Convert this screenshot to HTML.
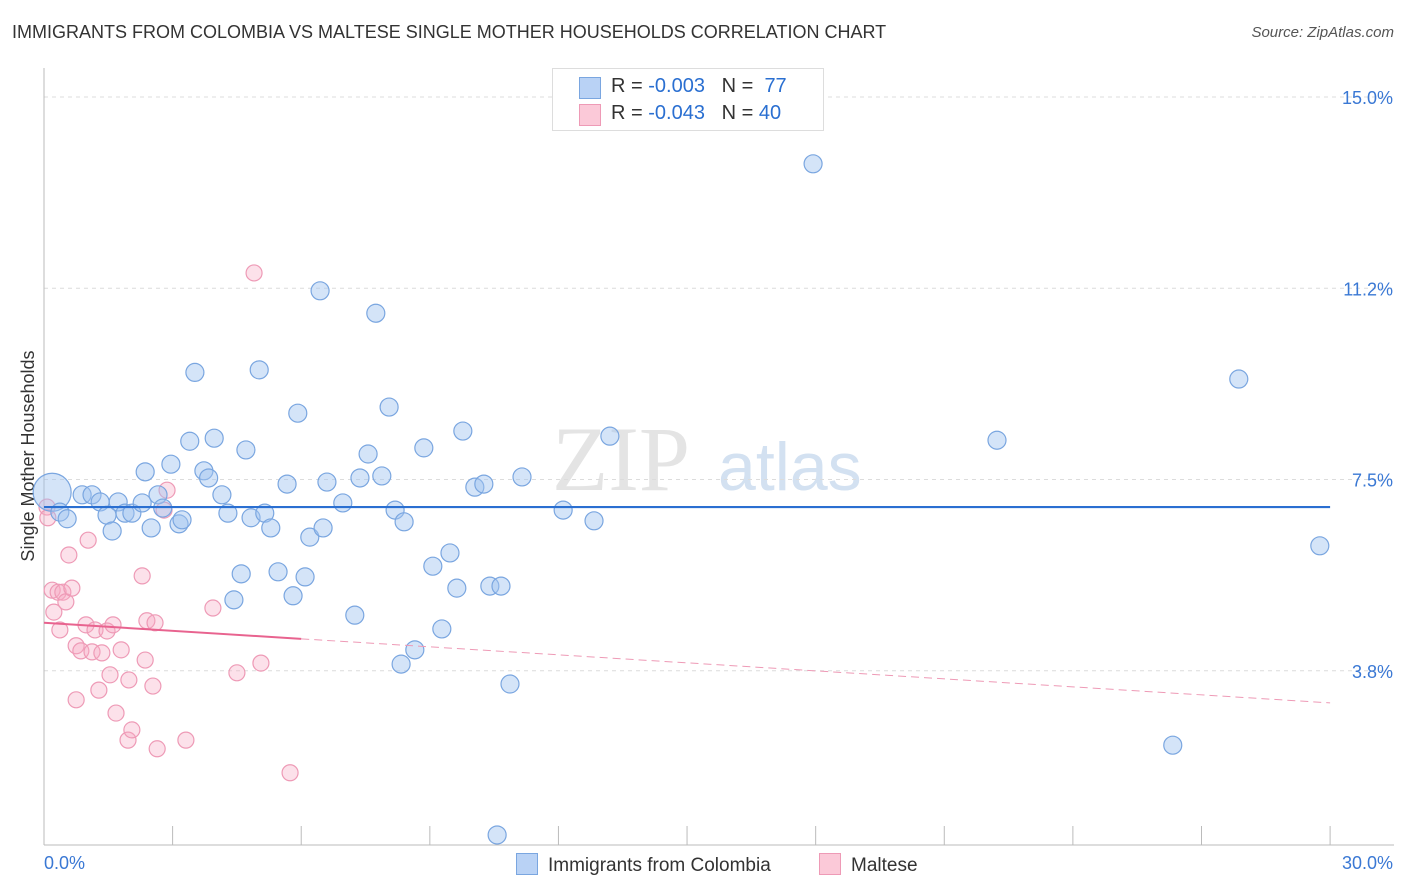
<!DOCTYPE html>
<html><head><meta charset="utf-8"><style>
body{margin:0;background:#fff;font-family:"Liberation Sans",sans-serif;}
#wrap{position:relative;width:1406px;height:892px;overflow:hidden;}
.t{position:absolute;white-space:nowrap;}
</style></head><body>
<div id="wrap">
<div class="t" style="left:12px;top:22px;font-size:18px;color:#333;">IMMIGRANTS FROM COLOMBIA VS MALTESE SINGLE MOTHER HOUSEHOLDS CORRELATION CHART</div>
<div class="t" style="right:12px;top:24px;font-size:15px;color:#555;font-style:italic;">Source: ZipAtlas.com</div>
<svg id="svg" width="1406" height="892" style="position:absolute;left:0;top:0"></svg>
<div class="t" style="left:552px;top:68px;width:270px;height:61px;border:1px solid #ddd;background:#fff;font-size:20px;color:#333;">
 <div style="position:absolute;left:26px;top:8px;width:20px;height:20px;background:#b9d2f5;border:1px solid #7aa6e0;"></div>
 <div style="position:absolute;left:58px;top:6px;">R = <span style="color:#2a6fd1">-0.003</span>&nbsp;&nbsp;&nbsp;N = &nbsp;<span style="color:#2a6fd1">77</span></div>
 <div style="position:absolute;left:26px;top:35px;width:20px;height:20px;background:#fbc9d8;border:1px solid #ee9ab6;"></div>
 <div style="position:absolute;left:58px;top:33px;">R = <span style="color:#2a6fd1">-0.043</span>&nbsp;&nbsp;&nbsp;N = <span style="color:#2a6fd1">40</span></div>
</div>
<div class="t" style="left:516px;top:853px;font-size:19px;color:#333;"><span style="display:inline-block;width:20px;height:20px;background:#b9d2f5;border:1px solid #7aa6e0;vertical-align:-4px;margin-right:10px;"></span>Immigrants from Colombia</div>
<div class="t" style="left:819px;top:853px;font-size:19px;color:#333;"><span style="display:inline-block;width:20px;height:20px;background:#fbc9d8;border:1px solid #ee9ab6;vertical-align:-4px;margin-right:10px;"></span>Maltese</div>
</div>
<script>
const yTicks=[3.75,7.5,11.25,15.0];
const yTickLabels=["3.8%","7.5%","11.2%","15.0%"];
const xTickLabels=["0.0%","30.0%"];
const blueX=[0.19,0.37,0.54,0.89,1.12,1.31,1.47,1.59,1.73,1.89,2.05,2.29,2.36,2.5,2.66,2.77,2.96,3.15,3.22,3.4,3.52,3.73,3.84,3.97,4.15,4.29,4.43,4.6,4.71,4.83,5.02,5.15,5.29,5.46,5.67,5.81,5.92,6.09,6.2,6.44,6.51,6.6,6.97,7.25,7.37,7.56,7.74,7.88,8.05,8.19,8.33,8.4,8.65,8.86,9.07,9.28,9.47,9.63,9.77,10.05,10.26,10.4,10.57,10.66,10.87,11.15,12.11,12.83,13.2,17.94,22.23,26.33,27.87,29.76];
const blueY=[7.25,6.86,6.73,7.2,7.2,7.06,6.8,6.49,7.06,6.84,6.84,7.04,7.65,6.55,7.2,6.94,7.8,6.63,6.71,8.25,9.6,7.67,7.53,8.31,7.2,6.84,5.14,5.65,8.08,6.75,9.65,6.84,6.55,5.69,7.41,5.22,8.8,5.59,6.37,11.2,6.55,7.45,7.04,4.84,7.53,8.0,10.76,7.57,8.92,6.9,3.88,6.67,4.16,8.12,5.8,4.57,6.06,5.37,8.45,7.35,7.41,5.41,0.53,5.41,3.49,7.55,6.9,6.69,8.35,13.69,8.27,2.29,9.47,6.2,8.0];
const pinkX=[0.07,0.09,0.19,0.23,0.33,0.37,0.44,0.51,0.58,0.65,0.75,0.75,0.86,0.98,1.03,1.12,1.19,1.28,1.35,1.47,1.54,1.61,1.68,1.8,1.96,1.98,2.05,2.29,2.36,2.4,2.54,2.59,2.64,2.8,2.87,3.31,3.94,4.5,4.9,5.06,5.74];
const pinkY=[6.96,6.75,5.33,4.9,5.29,4.55,5.29,5.1,6.02,5.37,3.18,4.24,4.14,4.65,6.31,4.12,4.55,3.37,4.1,4.53,3.67,4.65,2.92,4.16,2.39,3.57,2.59,5.61,3.96,4.73,3.45,4.69,2.22,6.9,7.29,2.39,4.98,3.71,11.55,3.90,1.75];
const blueTrend=[6.96,6.96];
const pinkTrend=[4.69,3.12];
const NS="http://www.w3.org/2000/svg";
const svg=document.getElementById('svg');
const X0=44,XS=42.87,Y0=862,YS=51.0;
const xs=v=>X0+v*XS, ys=v=>Y0-v*YS;
function mk(tag,at){const e=document.createElementNS(NS,tag);for(const k in at)e.setAttribute(k,at[k]);svg.appendChild(e);return e;}
let w=mk('text',{x:552,y:490,'font-size':92,'font-family':'Liberation Serif, serif',fill:'#e4e4e4'});w.textContent='ZIP';


let w2=mk('text',{x:718,y:490,'font-size':68,'font-family':'Liberation Sans, sans-serif',fill:'#d3e1f1'});w2.textContent='atlas';


yTicks.forEach((v,i)=>{
 const g=mk('line',{x1:44,x2:1394,y1:ys(v),y2:ys(v),stroke:'#dcdcdc','stroke-dasharray':'4,4'});
 
 
 const t=mk('text',{x:1393,y:ys(v)+7,'text-anchor':'end','font-size':18,fill:'#3a78d4','font-family':'Liberation Sans, sans-serif'});
 t.textContent=yTickLabels[i];
 
 
});
let ax=mk('line',{x1:44,x2:44,y1:68,y2:845,stroke:'#bbb'});


let axx=mk('line',{x1:44,x2:1394,y1:845,y2:845,stroke:'#bbb'});


for(let i=0;i<=10;i++){const tk=mk('line',{x1:xs(i*3),x2:xs(i*3),y1:826,y2:845,stroke:'#bbb'});

}
[[0,'start',44],[1,'end',1393]].forEach(([i,a,x])=>{const t=mk('text',{x:x,y:869,'text-anchor':a,'font-size':18,fill:'#3a78d4','font-family':'Liberation Sans, sans-serif'});t.textContent=xTickLabels[i];

});
let yt=mk('text',{x:34,y:456,transform:'rotate(-90 34 456)','text-anchor':'middle','font-size':18,fill:'#333','font-family':'Liberation Sans, sans-serif'});yt.textContent='Single Mother Households';


pinkX.forEach((x,i)=>{const c=mk('circle',{cx:xs(x),cy:ys(pinkY[i]),r:8,fill:'rgba(246,170,195,0.35)',stroke:'#ee9ab6','stroke-width':1.2});

});
blueX.forEach((x,i)=>{const c=mk('circle',{cx:xs(x),cy:ys(blueY[i]),r:i===0?19:9,fill:'rgba(160,195,240,0.45)',stroke:'#7aa6e0','stroke-width':1.2});

});
let bl=mk('line',{x1:xs(0),x2:xs(30),y1:ys(blueTrend[0]),y2:ys(blueTrend[1]),stroke:'#2a6fd1','stroke-width':2.2});


const py=x=>pinkTrend[0]+(pinkTrend[1]-pinkTrend[0])*x/30;
let pl=mk('line',{x1:xs(0),x2:xs(6),y1:ys(py(0)),y2:ys(py(6)),stroke:'#e8638f','stroke-width':2});


let pd=mk('line',{x1:xs(6),x2:xs(30),y1:ys(py(6)),y2:ys(py(30)),stroke:'#ee9ab6','stroke-width':1,'stroke-dasharray':'8,5'});


</script>
</body></html>
